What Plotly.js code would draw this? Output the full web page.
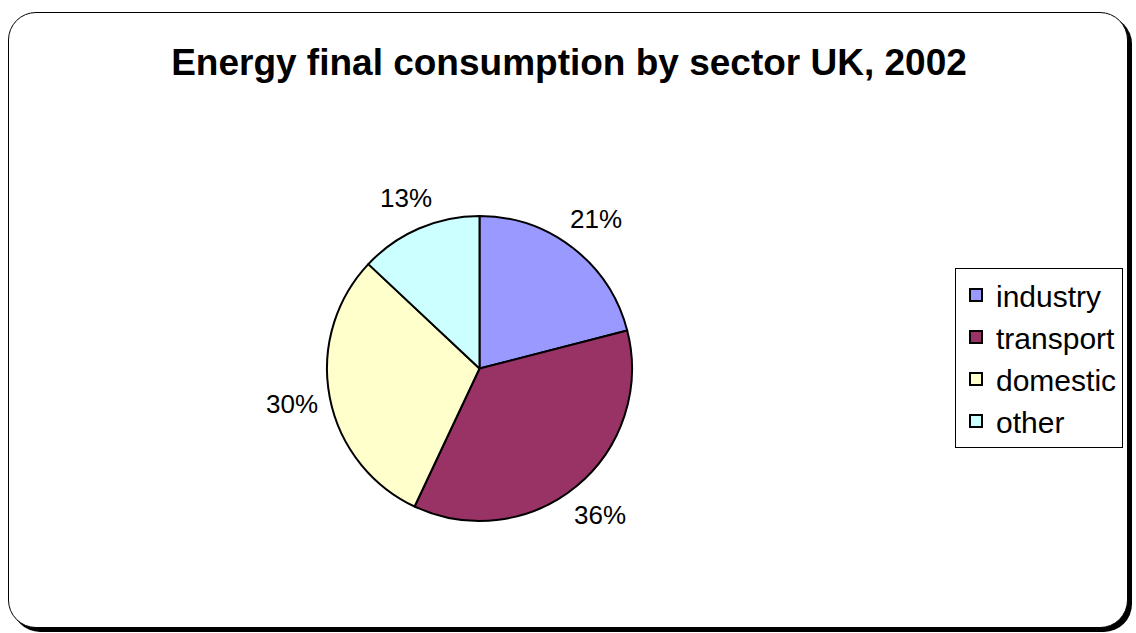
<!DOCTYPE html>
<html>
<head>
<meta charset="utf-8">
<script src="https://cdn.plot.ly/plotly-3.0.1.min.js"></script>
<style>
  html, body { margin: 0; padding: 0; background: #ffffff; }
  #wrap { position: relative; width: 1136px; height: 633px; overflow: hidden; }
  #frame {
    position: absolute; left: 8px; top: 12px; width: 1118px; height: 614px;
    border: 1.5px solid #000; border-radius: 28px; background: #fff;
    box-shadow: 4px 4px 0 #000;
  }
  #chart { position: absolute; left: 0; top: 0; width: 1136px; height: 633px; }
</style>
</head>
<body>
<div id="wrap">
  <div id="frame"></div>
  <div id="chart"></div>
</div>
<script>
const titleText = "Energy final consumption by sector UK, 2002";
const sectors = ["industry", "transport", "domestic", "other"];
const shares = [21, 36, 30, 13];
const sliceColors = ["#9999FF", "#993366", "#FFFFCC", "#CCFFFF"];

const W = 1136, H = 633;
const FONT = "Liberation Sans, Arial, sans-serif";
// pie domain in pixels
const pieLeft = 326, pieRight = 633, pieTop = 216, pieBottom = 521;
const domX = [pieLeft / W, pieRight / W];
const domY = [(H - pieBottom) / H, (H - pieTop) / H];

const data = [{
  type: "pie",
  labels: sectors,
  values: shares,
  sort: false,
  direction: "clockwise",
  rotation: 0,
  marker: { colors: sliceColors, line: { color: "#000000", width: 2 } },
  textinfo: "none",
  hoverinfo: "label+percent",
  domain: { x: domX, y: domY },
  automargin: false
}];

// percentage labels placed outside each slice, derived from the data
const total = shares.reduce((a, b) => a + b, 0);
const cx = (pieLeft + pieRight) / 2, cy = (pieTop + pieBottom) / 2;
const R = Math.min(pieRight - pieLeft, pieBottom - pieTop) / 2;
const annotations = [];
let cum = 0;
shares.forEach((v, i) => {
  const mid = (cum + v / 2) / total * 2 * Math.PI;
  cum += v;
  const s = Math.sin(mid), c = Math.cos(mid);
  const dist = R + 12 + 25 * Math.abs(s) + 12 * Math.abs(c);
  const px = cx + dist * s, py = cy - dist * c;
  annotations.push({
    x: px / W, y: 1 - py / H, xref: "paper", yref: "paper",
    xanchor: "center", yanchor: "middle",
    text: Math.round(v / total * 100) + "%",
    showarrow: false,
    font: { family: FONT, size: 26, color: "#000" }
  });
});

const layout = {
  width: W, height: H,
  margin: { l: 0, r: 0, t: 0, b: 0 },
  paper_bgcolor: "rgba(0,0,0,0)",
  plot_bgcolor: "rgba(0,0,0,0)",
  title: {
    text: "<b>" + titleText + "</b>",
    font: { family: FONT, size: 37, color: "#000" },
    x: 569 / W, xanchor: "center",
    y: 1 - 62 / H, yanchor: "middle", yref: "container"
  },
  annotations: annotations,
  showlegend: true,
  legend: {
    x: 955 / W, xanchor: "left",
    y: 1 - 268 / H, yanchor: "top",
    bgcolor: "#ffffff", bordercolor: "#000000", borderwidth: 1,
    font: { family: FONT, size: 30, color: "#000" },
    traceorder: "normal"
  }
};

Plotly.newPlot("chart", data, layout, { displayModeBar: false, staticPlot: true });
</script>
</body>
</html>
